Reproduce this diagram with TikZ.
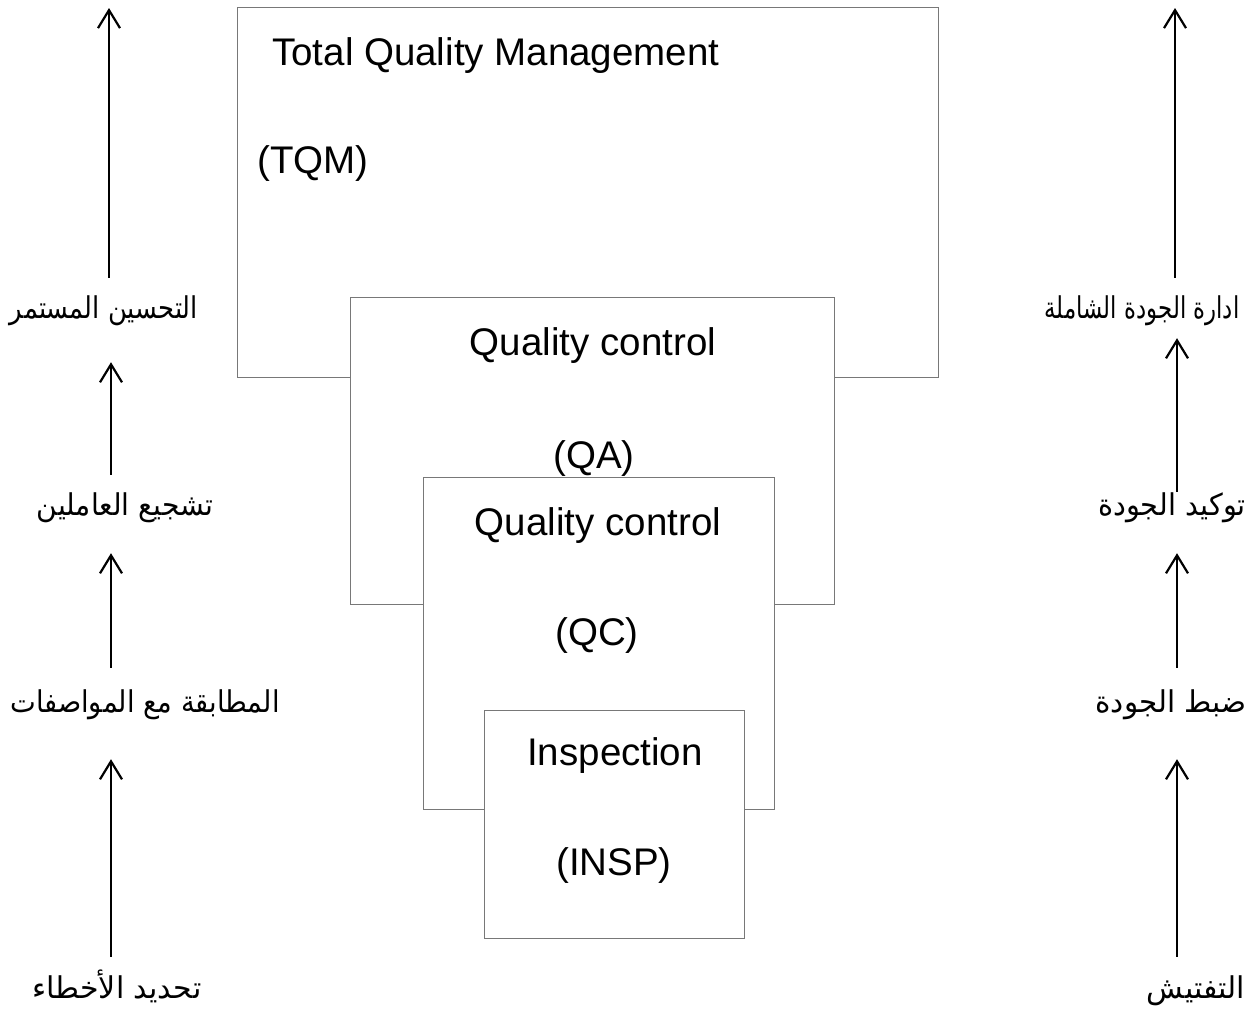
\documentclass[tikz,border=0pt]{standalone}
\usepackage{fontspec}
\usepackage{graphicx}
\setmainfont{Liberation Sans}
\newfontfamily\arabicfont[Script=Arabic]{DejaVu Sans}
\TeXXeTstate=1
\usetikzlibrary{arrows.meta,calc}
\definecolor{boxgray}{RGB}{120,120,120}
\begin{document}
\begin{tikzpicture}[x=1pt,y=-1pt,
  box/.style={draw=boxgray,fill=white,line width=1.1pt,anchor=north west,inner sep=0pt},
  en/.style={font=\fontsize{38.5}{46}\selectfont,inner sep=0pt,anchor=base},
  ar/.style={font=\arabicfont\fontsize{30}{36}\selectfont,inner sep=0pt,anchor=base,text height=28pt,text depth=10pt},
  arr/.style={line width=2.2pt,-{Straight Barb[length=18pt,width=22pt,line width=2.2pt]}}]
\useasboundingbox (0,0) rectangle (1257,1013);

% nested boxes
\node[box,minimum width=701pt,minimum height=370pt] (tqm) at (237,7) {};
\node[en,anchor=base west] (tqmtitle) at (272,65) {Total Quality Management};
\node[en,anchor=base west] (tqmabbr) at (257,173) {(TQM)};

\node[box,minimum width=484pt,minimum height=307pt] (qa) at (350,297) {};
\node[en] (qatitle) at (593,355) {Quality control};
\node[en] (qaabbr) at (594,468) {(QA)};

\node[box,minimum width=351pt,minimum height=332pt] (qc) at (423,477) {};
\node[en] (qctitle) at (598,535) {Quality control};
\node[en] (qcabbr) at (597,645) {(QC)};

\node[box,minimum width=260pt,minimum height=228pt] (insp) at (484,710) {};
\node[en] (insptitle) at (615,765) {Inspection};
\node[en] (inspabbr) at (614,875) {(INSP)};

% left column labels
\node[ar] (L1) at (104,318) {\scalebox{0.86}[1]{\beginR التحسين المستمر\endR}};
\node[ar] (L2) at (125,515) {\scalebox{0.94}[1]{\beginR تشجيع العاملين\endR}};
\node[ar] (L3) at (145,712) {\scalebox{0.91}[1]{\beginR المطابقة مع المواصفات\endR}};
\node[ar] (L4) at (117,998) {\beginR تحديد الأخطاء\endR};

% right column labels
\node[ar] (R1) at (1142,318) {\scalebox{0.76}[1]{\beginR ادارة الجودة الشاملة\endR}};
\node[ar] (R2) at (1172,515) {\scalebox{0.96}[1]{\beginR توكيد الجودة\endR}};
\node[ar] (R3) at (1171,712) {\scalebox{0.98}[1]{\beginR ضبط الجودة\endR}};
\node[ar] (R4) at (1196,998) {\beginR التفتيش\endR};

\coordinate (cL) at (111,0);
\coordinate (cR) at (1177,0);
\coordinate (topL) at (109,8);
\coordinate (topR) at (1175,8);

% left arrows
\draw[arr] ($(L1.north -| topL)+(0,-12)$) -- (topL);
\draw[arr] ($(L2.north -| cL)+(0,-12)$) -- ($(L1.south -| cL)+(0,34)$);
\draw[arr] ($(L3.north -| cL)+(0,-16)$) -- ($(L2.south -| cL)+(0,28)$);
\draw[arr] ($(L4.north -| cL)+(0,-13)$) -- ($(L3.south -| cL)+(0,37)$);

% right arrows
\draw[arr] ($(R1.north -| topR)+(0,-12)$) -- (topR);
\draw[arr] ($(R2.north -| cR)+(0,5)$) -- ($(R1.south -| cR)+(0,10)$);
\draw[arr] ($(R3.north -| cR)+(0,-16)$) -- ($(R2.south -| cR)+(0,28)$);
\draw[arr] ($(R4.north -| cR)+(0,-13)$) -- ($(R3.south -| cR)+(0,37)$);
\end{tikzpicture}
\end{document}
